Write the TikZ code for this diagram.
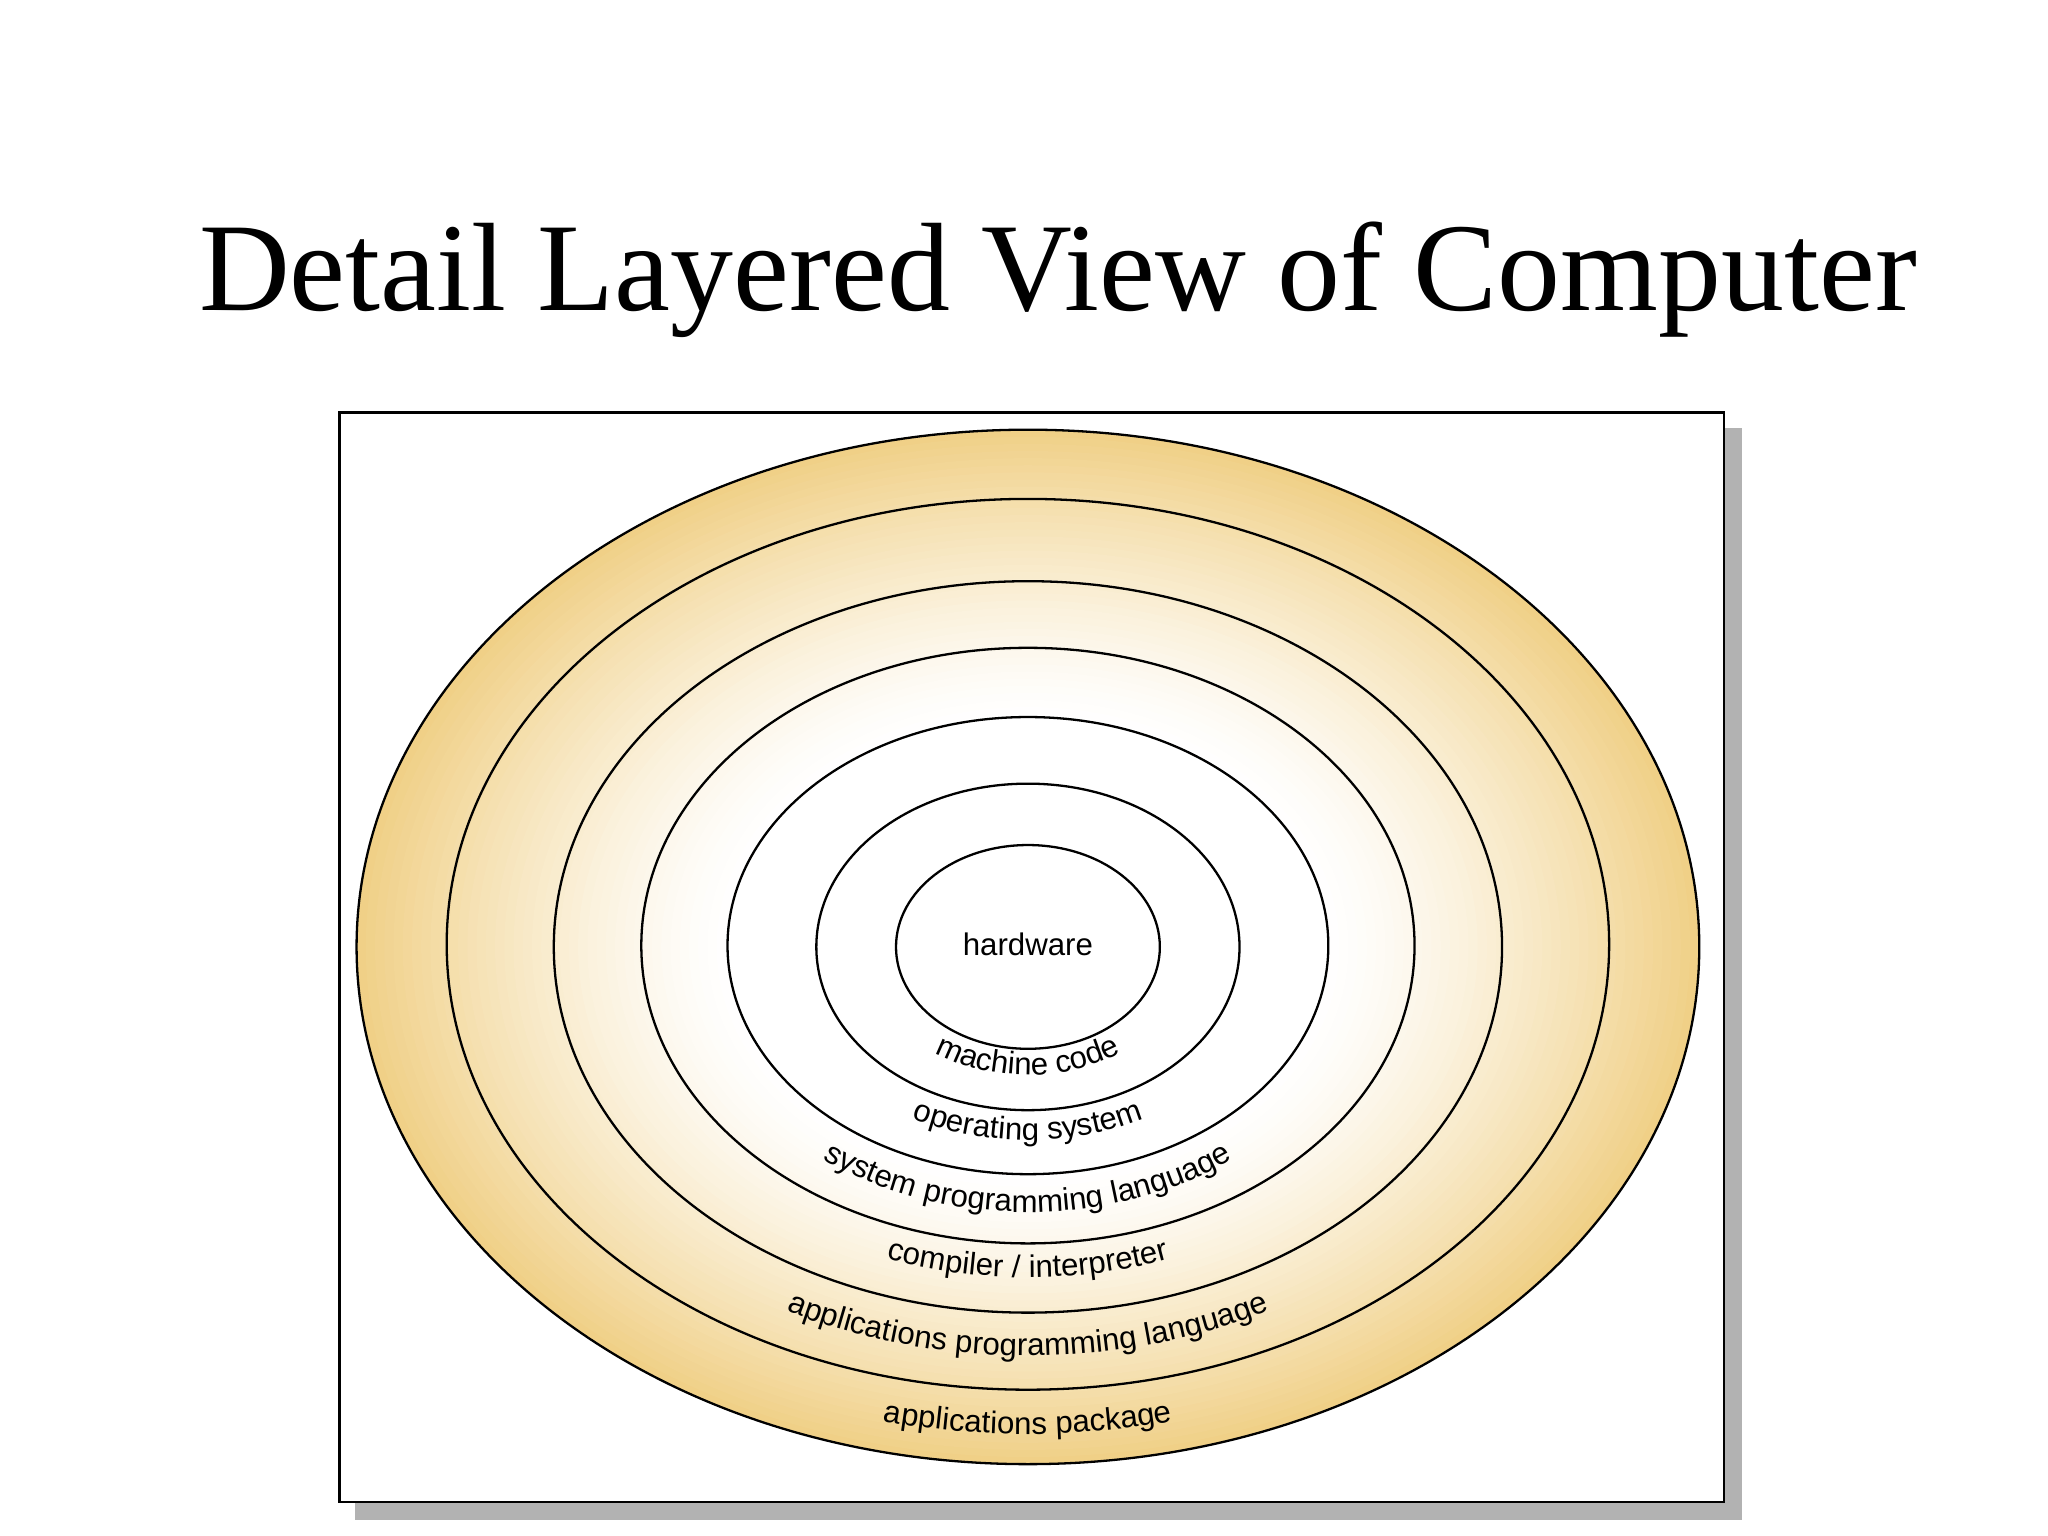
\documentclass[tikz,border=0pt]{standalone}
\usepackage{fontspec}
\setmainfont{Liberation Serif}
\newfontfamily\labfont{Liberation Sans}
\usetikzlibrary{decorations.text,calc}
\definecolor{tanc}{RGB}{240,208,135}
\tikzset{ring/.style={draw=black,line width=0.5pt},
 lab/.style={decorate,decoration={text along path,text align=center,text={|\labfont\fontsize{6.8}{7}\selectfont|#1}}}}
\begin{document}
\begin{tikzpicture}
\useasboundingbox (0,0) rectangle (15.68,11.76);
\node[font=\fontsize{27.4}{32}\selectfont] (title) at (8.1,9.62) {Detail Layered View of Computer};
\fill[gray!60] (2.72,0.12) rectangle (13.34,8.48);
\draw[fill=white,line width=0.6pt] (2.60,0.26) rectangle (13.20,8.60);
\coordinate (c) at (7.87,4.51);
\foreach \i in {0,...,40}{
  \pgfmathsetmacro{\f}{1-\i*0.55/40}
  \pgfmathsetmacro{\p}{max(0,min(100,(\f-0.45)/0.55*100))^1.3/100^0.3}
  \fill[tanc!\p!white] (c) ellipse [x radius=5.14*\f,y radius=3.96*\f];
}
\draw[ring] (c) ellipse [x radius=5.14,y radius=3.96];
\draw[ring] (7.87,4.53) ellipse [x radius=4.45,y radius=3.41];
\draw[ring] (c) ellipse [x radius=3.63,y radius=2.80];
\draw[ring] (7.87,4.52) ellipse [x radius=2.96,y radius=2.28];
\draw[ring] (7.87,4.52) ellipse [x radius=2.30,y radius=1.75];
\draw[ring] (c) ellipse [x radius=1.62,y radius=1.25];
\draw[ring] (c) ellipse [x radius=1.01,y radius=0.78];
\node[font=\labfont\fontsize{6.8}{7}\selectfont] (hw) at (7.87,4.53) {hardware};
\path[lab={machine code}] ($(c)+({1.27*cos(205)},{0.98*sin(205)})$) arc[start angle=205,end angle=335,x radius=1.27,y radius=0.98];
\path[lab={operating system}] ($(c)+({1.93*cos(205)},{1.48*sin(205)})$) arc[start angle=205,end angle=335,x radius=1.93,y radius=1.48];
\path[lab={system programming language}] ($(c)+({2.62*cos(200)},{2.03*sin(200)})$) arc[start angle=200,end angle=340,x radius=2.62,y radius=2.03];
\path[lab={compiler / interpreter}] ($(c)+({3.28*cos(210)},{2.53*sin(210)})$) arc[start angle=210,end angle=330,x radius=3.28,y radius=2.53];
\path[lab={applications programming language}] ($(c)+({4.06*cos(210)},{3.13*sin(210)})$) arc[start angle=210,end angle=330,x radius=4.06,y radius=3.13];
\path[lab={applications package}] ($(c)+({4.84*cos(220)},{3.73*sin(220)})$) arc[start angle=220,end angle=320,x radius=4.84,y radius=3.73];
\end{tikzpicture}
\end{document}
